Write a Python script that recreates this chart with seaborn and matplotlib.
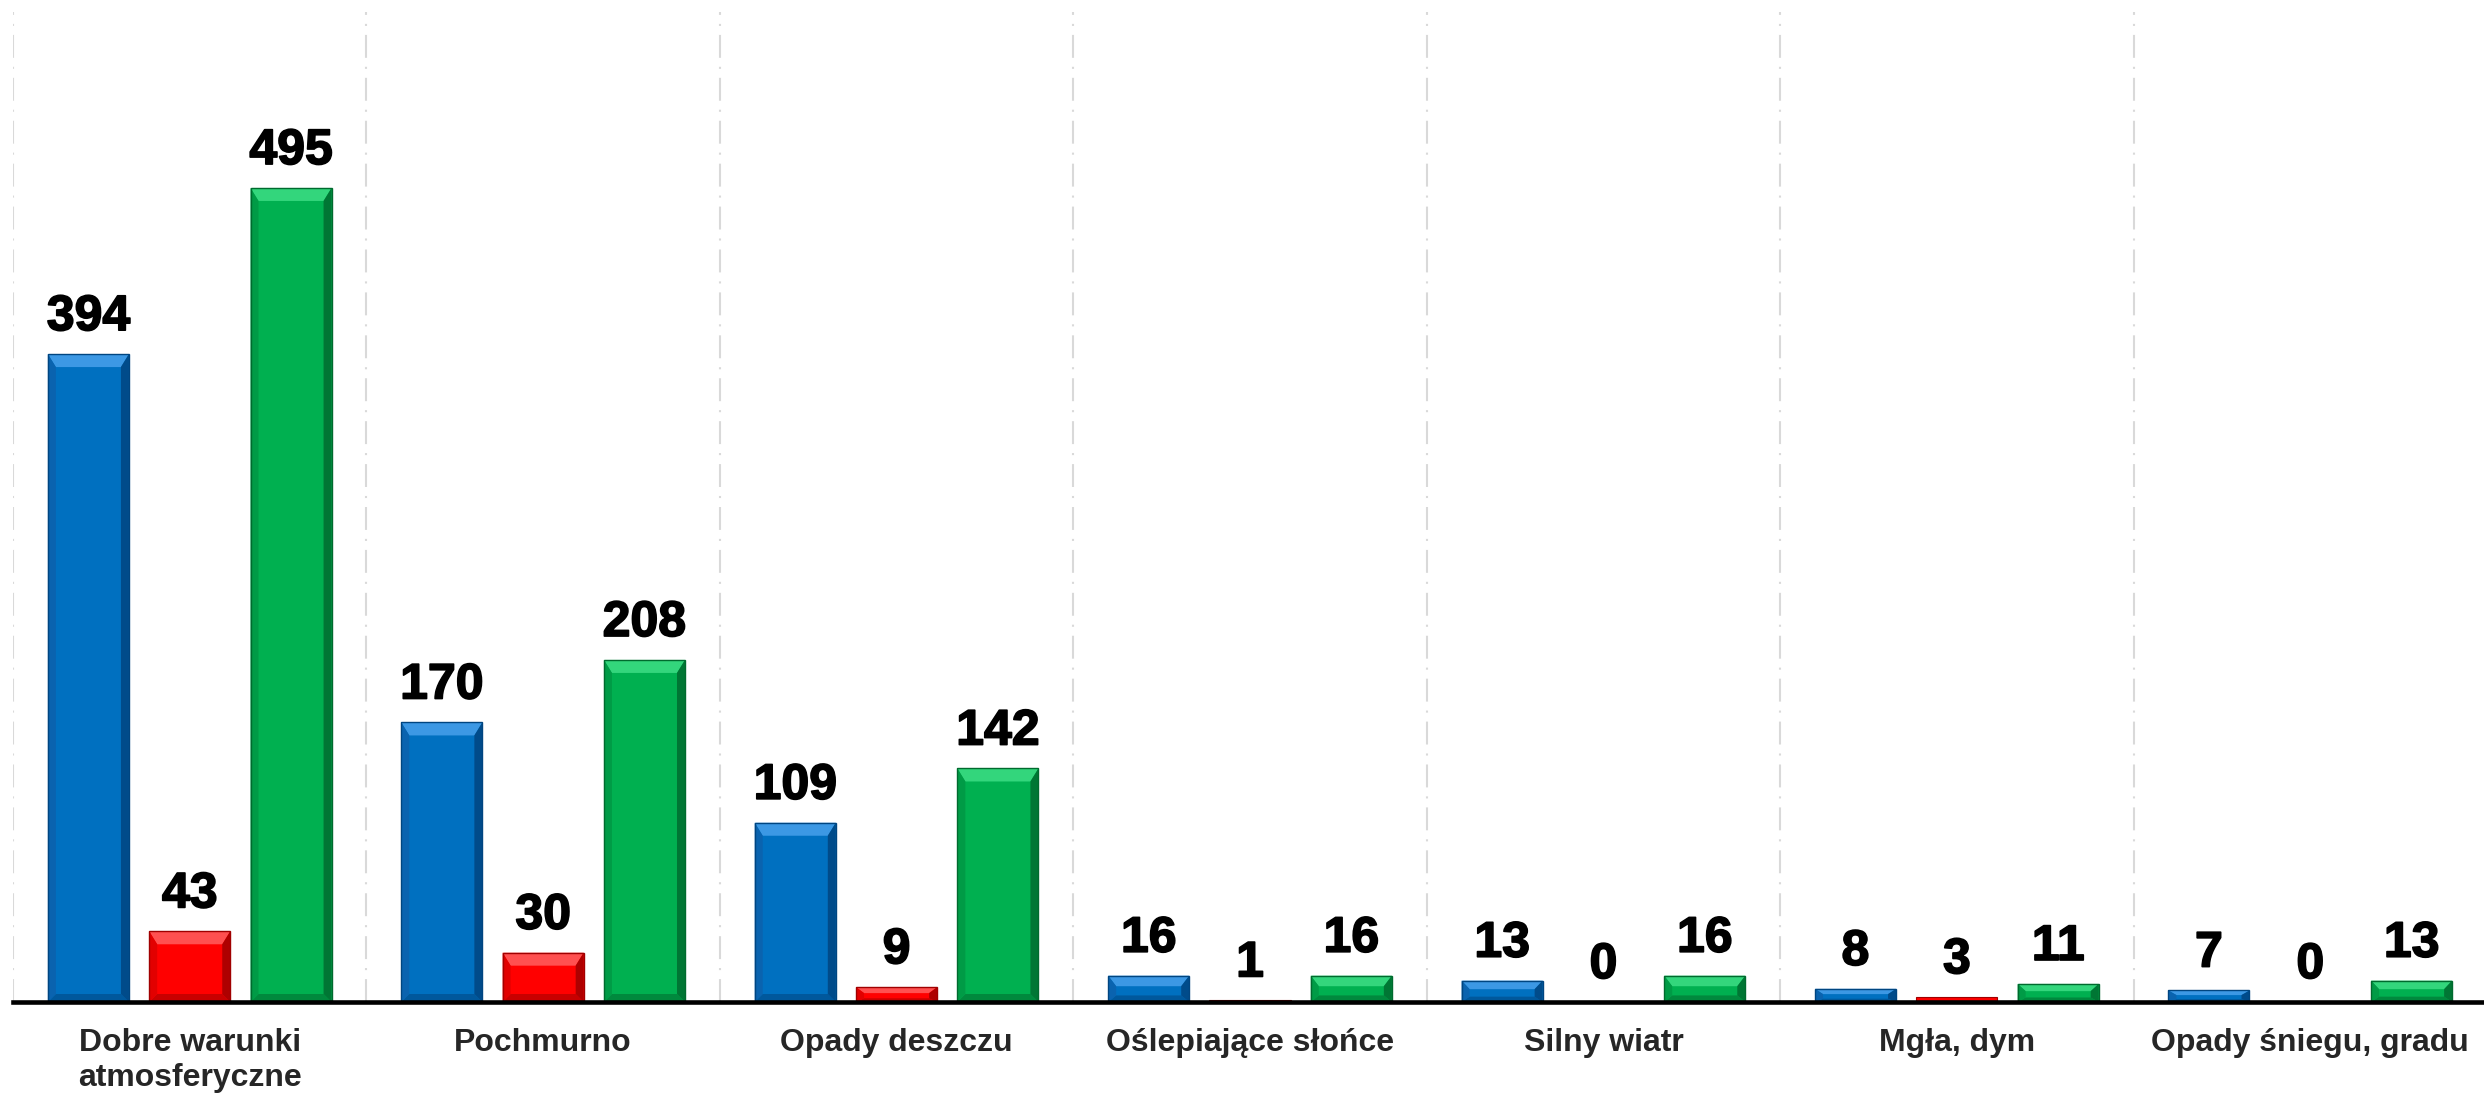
import numpy as np
import pandas as pd
import seaborn as sns
import matplotlib
matplotlib.use('Agg')
import matplotlib.pyplot as plt
import matplotlib.patheffects as pe
from matplotlib.patches import Polygon

# dane
kategorie = ['Dobre warunki\natmosferyczne', 'Pochmurno', 'Opady deszczu',
             'Oślepiające słońce', 'Silny wiatr', 'Mgła, dym', 'Opady śniegu, gradu']
wypadki = [394, 170, 109, 16, 13, 8, 7]
zabici = [43, 30, 9, 1, 0, 3, 0]
ranni = [495, 208, 142, 16, 16, 11, 13]
serie = ['wypadki', 'zabici', 'ranni']
kolory = ['#0070C0', '#FF0000', '#00B050']

# odcienie do efektu "bevel" (gora, lewa, prawa, dol, obrys)
cienie = {
    '#0070C0': ('#3C98E4', '#0A63AF', '#004B8A', '#00589C', '#004580'),
    '#FF0000': ('#FF5050', '#E20000', '#AE0000', '#C80000', '#A00000'),
    '#00B050': ('#33D67C', '#009B46', '#007634', '#00893D', '#006A2E'),
}

df = pd.DataFrame({
    'kategoria': kategorie * 3,
    'seria': [s for s in serie for _ in kategorie],
    'wartosc': wypadki + zabici + ranni,
})

sns.set_style('white')
plt.rcParams['font.family'] = ['Liberation Sans', 'DejaVu Sans']

W, H = 2484, 1097
fig = plt.figure(figsize=(W / 100, H / 100), dpi=100)
ax = fig.add_axes([13 / W, 95 / H, 2474 / W, (1002 - 12) / H])

sns.barplot(data=df, x='kategoria', y='wartosc', hue='seria', hue_order=serie,
            palette=kolory, saturation=1, width=0.86, gap=0.2, errorbar=None,
            legend=False, ax=ax, linewidth=0, zorder=3)

ax.set_xlim(-0.5, -0.5 + 2474 / 353.5)
ax.set_ylim(0, 602)

# wartosci nad slupkami
for c in ax.containers:
    etyk = ax.bar_label(c, fmt='%d', padding=10, fontsize=36, fontweight='bold', color='black')
    for e in etyk:
        e.set_path_effects([pe.withStroke(linewidth=1.2, foreground='black')])

# efekt wypuklosci slupkow
sx = (ax.get_xlim()[1] - ax.get_xlim()[0]) / 2474
sy = (ax.get_ylim()[1] - ax.get_ylim()[0]) / (1002 - 12)
for p in ax.patches:
    h = p.get_height()
    if h <= 0:
        continue
    hpx = h / sy
    fc = matplotlib.colors.to_hex(p.get_facecolor()).upper()
    top, lewa, prawa, dol, obrys = cienie[fc]
    x0, x1 = p.get_x(), p.get_x() + p.get_width()
    y0, y1 = 0, h
    if hpx < 5:
        p.set_edgecolor(obrys)
        p.set_linewidth(0.8)
        continue
    bx = 8 * sx
    bt = min(13, 0.4 * hpx) * sy
    bb = min(8, 0.25 * hpx) * sy
    ix0, ix1, iy0, iy1 = x0 + bx, x1 - bx, y0 + bb, y1 - bt
    kawalki = [
        ([(x0, y1), (x1, y1), (ix1, iy1), (ix0, iy1)], top),
        ([(x0, y0), (x1, y0), (ix1, iy0), (ix0, iy0)], dol),
        ([(x0, y0), (x0, y1), (ix0, iy1), (ix0, iy0)], lewa),
        ([(x1, y0), (x1, y1), (ix1, iy1), (ix1, iy0)], prawa),
    ]
    for pts, kol in kawalki:
        ax.add_patch(Polygon(pts, closed=True, facecolor=kol, edgecolor='none', zorder=4))
    ax.add_patch(Polygon([(x0, y0), (x0, y1), (x1, y1), (x1, y0)], closed=True,
                         facecolor='none', edgecolor=obrys, linewidth=1.0, zorder=5))

# osie i siatka
for s in ['left', 'top', 'right']:
    ax.spines[s].set_visible(False)
ax.spines['bottom'].set_linewidth(3.3)
ax.spines['bottom'].set_color('black')
ax.spines['bottom'].set_zorder(6)
ax.set_yticks([])
ax.set_xlabel('')
ax.set_ylabel('')
ax.set_xticks(np.arange(-0.5, 7, 1), minor=True)
ax.tick_params(axis='x', which='major', length=0, pad=19, labelsize=23)
ax.tick_params(axis='x', which='minor', direction='inout', length=17, width=2.5, color='black')
for t in ax.get_xticklabels():
    t.set_fontweight('bold')
    t.set_linespacing(1.2)
ax.xaxis.grid(True, which='minor', color='#D9D9D9', linestyle=(0, (11, 4.3, 1, 4.3)),
              linewidth=1.5)
ax.xaxis.grid(False, which='major')
ax.set_axisbelow(True)

fig.savefig('out.png', dpi=100)
